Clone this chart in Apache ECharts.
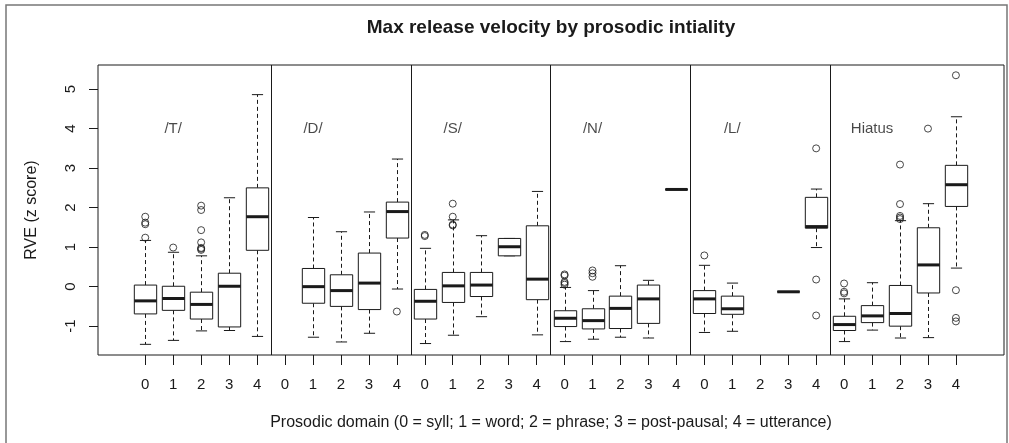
<!DOCTYPE html>
<html><head><meta charset="utf-8">
<script src="https://cdn.jsdelivr.net/npm/echarts@6/dist/echarts.min.js"></script>
<style>html,body{margin:0;padding:0;background:#fff}#c{width:1009px;height:443px}</style>
</head><body><div id="c"></div><script>
const groups = ['/T/', '/D/', '/S/', '/N/', '/L/', 'Hiatus'];
const domains = ['0', '1', '2', '3', '4'];
const yTicks = [-1, 0, 1, 2, 3, 4, 5];
// box stats per domain: [lower whisker, Q1, median, Q3, upper whisker]; null = no data
const statsT = [[-1.46,-0.69,-0.36,0.04,1.17],[-1.36,-0.60,-0.30,0.01,0.87],[-1.12,-0.82,-0.45,-0.14,0.78],[-1.11,-1.02,0.01,0.34,2.25],[-1.26,0.92,1.77,2.50,4.86]];
const statsD = [null,[-1.28,-0.42,0.00,0.46,1.75],[-1.40,-0.50,-0.10,0.30,1.39],[-1.18,-0.58,0.09,0.85,1.89],[-0.06,1.23,1.90,2.14,3.23]];
const statsS = [[-1.44,-0.82,-0.37,-0.07,0.97],[-1.23,-0.40,0.02,0.36,1.69],[-0.76,-0.25,0.04,0.36,1.29],[0.78,0.78,1.01,1.22,1.22],[-1.22,-0.33,0.19,1.54,2.41]];
const statsN = [[-1.39,-1.01,-0.80,-0.61,-0.02],[-1.33,-1.07,-0.86,-0.56,-0.10],[-1.28,-1.06,-0.55,-0.24,0.53],[-1.30,-0.93,-0.31,0.04,0.16],[2.46,2.46,2.46,2.46,2.46]];
const statsL = [[-1.16,-0.68,-0.31,-0.10,0.54],[-1.13,-0.70,-0.56,-0.24,0.09],null,[-0.13,-0.13,-0.13,-0.13,-0.13],[0.99,1.48,1.52,2.26,2.47]];
const statsH = [[-1.39,-1.11,-0.96,-0.75,-0.31],[-1.10,-0.91,-0.74,-0.48,0.10],[-1.30,-1.00,-0.68,0.03,1.67],[-1.29,-0.16,0.55,1.49,2.10],[0.47,2.03,2.58,3.07,4.30]];
// outliers per domain
const outT = [[1.24,1.58,1.62,1.77],[0.99],[0.93,0.96,0.98,1.12,1.43,1.94,2.05],[],[]];
const outD = [[],[],[],[],[-0.63]];
const outS = [[1.28,1.31],[1.55,1.57,1.77,2.10],[],[],[]];
const outN = [[0.05,0.09,0.12,0.28,0.31],[0.25,0.34,0.41],[],[],[]];
const outL = [[0.79],[],[],[],[-0.73,0.18,3.50]];
const outH = [[-0.17,-0.13,0.08],[],[1.71,1.75,1.79,2.09,3.09],[4.00],[-0.88,-0.79,-0.09,5.35]];

const allStats = [statsT, statsD, statsS, statsN, statsL, statsH];
const allOut = [outT, outD, outS, outN, outL, outH];

const boxData = [], outData = [], labelData = [], separators = [], xTicks = [];
allStats.forEach((gs, g) => {
  gs.forEach((s, d) => {
    const x = g * domains.length + d;
    xTicks.push(x);
    if (s) boxData.push([x].concat(s));
    allOut[g][d].forEach(v => outData.push([x, v]));
  });
  labelData.push({ value: [g * domains.length + 1, 4], name: groups[g] });
  if (g > 0) separators.push({ xAxis: g * domains.length - 0.5 });
});

const FONT = 'Liberation Sans, Arial, Helvetica, sans-serif';
const INK = '#1a1a1a';
const chart = echarts.init(document.getElementById('c'), null, { renderer: 'canvas' });
chart.setOption({
  animation: false,
  backgroundColor: '#fff',
  textStyle: { fontFamily: FONT },
  graphic: [
    { type: 'rect', shape: { x: 6, y: 5, width: 1001, height: 460 },
      style: { fill: 'none', stroke: '#777', lineWidth: 1.5 }, silent: true },
    { type: 'text', x: 551, y: 28,
      style: { text: 'Max release velocity by prosodic intiality', align: 'center', verticalAlign: 'middle', fill: INK, font: 'bold 19px ' + FONT } },
    { type: 'text', x: 32, y: 210, rotation: Math.PI / 2,
      style: { text: 'RVE (z score)', align: 'center', verticalAlign: 'middle', fill: INK, font: '16px ' + FONT } },
    { type: 'text', x: 551, y: 423,
      style: { text: 'Prosodic domain (0 = syll; 1 = word; 2 = phrase; 3 = post-pausal; 4 = utterance)', align: 'center', verticalAlign: 'middle', fill: INK, font: '16px ' + FONT } }
  ],
  grid: { left: 98, right: 5, top: 65, bottom: 88, show: true, borderColor: INK, borderWidth: 1, backgroundColor: 'transparent' },
  xAxis: {
    type: 'value', min: -1.69, max: 30.72,
    axisLine: { show: false, onZero: false },
    splitLine: { show: false },
    axisTick: { show: true, customValues: xTicks, length: 10, lineStyle: { color: INK } },
    axisLabel: { customValues: xTicks, formatter: v => domains[Math.round(v) % domains.length], fontSize: 15, color: INK, margin: 22, fontFamily: FONT }
  },
  yAxis: {
    type: 'value', min: -1.73, max: 5.61,
    axisLine: { show: false, onZero: false },
    splitLine: { show: false },
    axisTick: { show: true, customValues: yTicks, length: 9, lineStyle: { color: INK } },
    axisLabel: { customValues: yTicks, rotate: 90, fontSize: 15, color: INK, margin: 20, fontFamily: FONT }
  },
  series: [
    {
      type: 'custom',
      data: boxData,
      encode: { x: 0, y: [1, 2, 3, 4, 5] },
      renderItem: function (params, api) {
        const x = api.value(0);
        const lo = api.coord([x, api.value(1)]);
        const q1 = api.coord([x, api.value(2)]);
        const md = api.coord([x, api.value(3)]);
        const q3 = api.coord([x, api.value(4)]);
        const hi = api.coord([x, api.value(5)]);
        const bw = api.size([0.8, 0])[0];
        const cw = bw / 2;
        const cx = Math.round(lo[0]) + 0.5;
        const L = cx - bw / 2, R = cx + bw / 2;
        const line = { stroke: INK, lineWidth: 1 };
        const dash = { stroke: INK, lineWidth: 1, lineDash: [4, 3] };
        return {
          type: 'group',
          children: [
            { type: 'line', shape: { x1: cx, y1: q3[1], x2: cx, y2: hi[1] }, style: dash },
            { type: 'line', shape: { x1: cx, y1: q1[1], x2: cx, y2: lo[1] }, style: dash },
            { type: 'line', shape: { x1: cx - cw / 2, y1: hi[1], x2: cx + cw / 2, y2: hi[1] }, style: line },
            { type: 'line', shape: { x1: cx - cw / 2, y1: lo[1], x2: cx + cw / 2, y2: lo[1] }, style: line },
            { type: 'rect', shape: { x: L, y: q3[1], width: bw, height: q1[1] - q3[1] }, style: { fill: '#fff', stroke: INK, lineWidth: 1 } },
            { type: 'line', shape: { x1: L, y1: md[1], x2: R, y2: md[1] }, style: { stroke: INK, lineWidth: 3 } }
          ]
        };
      },
      markLine: {
        silent: true, symbol: ['none', 'none'], label: { show: false },
        lineStyle: { color: INK, type: 'solid', width: 1 },
        data: separators
      },
      z: 2
    },
    {
      type: 'scatter',
      data: outData,
      symbol: 'circle', symbolSize: 7,
      itemStyle: { color: 'rgba(0,0,0,0)', borderColor: INK, borderWidth: 1 },
      z: 3
    },
    {
      type: 'scatter',
      data: labelData,
      symbolSize: 0,
      label: { show: true, position: 'inside', formatter: p => p.name, fontSize: 15, color: INK, fontFamily: FONT },
      z: 4
    }
  ]
});
</script></body></html>
